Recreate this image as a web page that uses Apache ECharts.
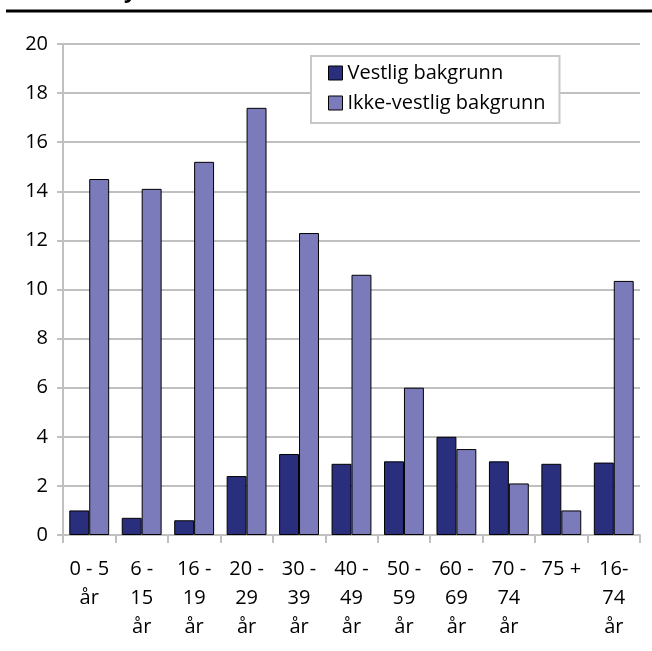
<!DOCTYPE html>
<html>
<head>
<meta charset="utf-8">
<script src="https://cdn.jsdelivr.net/npm/echarts@6/dist/echarts.min.js"></script>
<style>html,body{margin:0;padding:0;background:#fff}#c{width:652px;height:651px}</style>
</head>
<body>
<div id="c"></div>
<script>
const categories = ["0 - 5\når", "6 -\n15\når", "16 -\n19\når", "20 -\n29\når", "30 -\n39\når", "40 -\n49\når", "50 -\n59\når", "60 -\n69\når", "70 -\n74\når", "75 +", "16-\n74\når"];
const vestlig = [1.0, 0.7, 0.6, 2.4, 3.3, 2.9, 3.0, 4.0, 3.0, 2.9, 2.95];
const ikkeVestlig = [14.5, 14.1, 15.2, 17.4, 12.3, 10.6, 6.0, 3.5, 2.1, 1.0, 10.35];
const seriesNames = ["Vestlig bakgrunn", "Ikke-vestlig bakgrunn"];

const font = "'Open Sans', 'DejaVu Sans', sans-serif";
const chart = echarts.init(document.getElementById('c'), null, {renderer: 'canvas'});
chart.setOption({
  animation: false,
  backgroundColor: '#fff',
  textStyle: {fontFamily: font},
  graphic: [
    {type: 'line', shape: {x1: 6, y1: 11, x2: 652, y2: 11}, style: {stroke: '#000', lineWidth: 3}},
    {type: 'text', left: 124, top: -19, style: {text: 'y', font: 'bold 22px ' + font, fill: '#000'}}
  ],
  grid: {left: 63, right: 12, top: 44, bottom: 116, containLabel: false},
  legend: {
    orient: 'vertical',
    left: 311, top: 56,
    padding: [6, 14, 9, 17],
    itemGap: 8,
    itemWidth: 14, itemHeight: 14,
    borderColor: '#c8c8c8', borderWidth: 2,
    backgroundColor: '#fff',
    textStyle: {fontSize: 20, color: '#000', fontFamily: font, lineHeight: 22},
    data: seriesNames.map(n => ({name: n, icon: 'rect', itemStyle: {borderColor: '#000', borderWidth: 1}}))
  },
  xAxis: {
    type: 'category',
    data: categories,
    axisLine: {lineStyle: {color: '#c0c0c0', width: 2}},
    axisTick: {show: true, length: 8, lineStyle: {color: '#c0c0c0', width: 2}},
    axisLabel: {
      interval: 0, margin: 20,
      formatter: v => v.split('\n').map(s => '{a|' + s + '}').join('\n'),
      rich: {a: {fontSize: 20, color: '#000', lineHeight: 29, fontFamily: font}}
    }
  },
  yAxis: {
    type: 'value', min: 0, max: 20, interval: 2,
    axisLine: {show: true, lineStyle: {color: '#c0c0c0', width: 2}},
    axisTick: {show: true, length: 6, lineStyle: {color: '#c0c0c0', width: 2}},
    axisLabel: {
      margin: 15,
      formatter: v => '{a|' + v + '}',
      rich: {a: {fontSize: 20, color: '#000', fontFamily: font}}
    },
    splitLine: {lineStyle: {color: '#c0c0c0', width: 2}}
  },
  series: [
    {name: seriesNames[0], type: 'bar', data: vestlig, barGap: '0%', barCategoryGap: '24%',
     itemStyle: {color: '#2a2f7d', borderColor: '#000', borderWidth: 1}},
    {name: seriesNames[1], type: 'bar', data: ikkeVestlig, barGap: '0%', barCategoryGap: '24%',
     itemStyle: {color: '#7b7bbb', borderColor: '#000', borderWidth: 1}}
  ]
});
</script>
</body>
</html>
